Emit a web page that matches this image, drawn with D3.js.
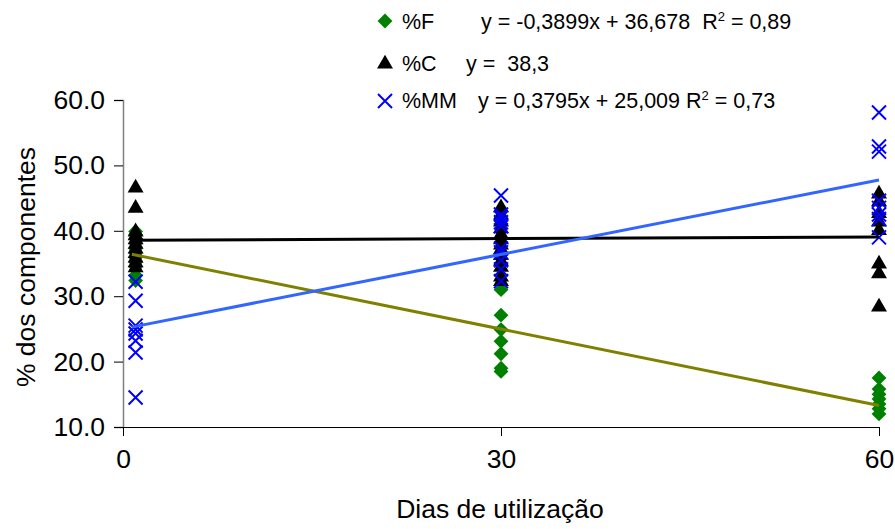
<!DOCTYPE html>
<html>
<head>
<meta charset="utf-8">
<script src="https://cdn.jsdelivr.net/npm/d3@7"></script>
<style>
  body { margin: 0; background: #fff; }
  text { font-family: "Liberation Sans", Arial, sans-serif; fill: #000; }
</style>
</head>
<body>
<div id="chart"></div>
<script>
// Data =====================================================
var days = [1, 30, 60];
var xTicks = [0, 30, 60];
var yTicks = [10, 20, 30, 40, 50, 60];

var fValues = [
  [39.9, 39.4, 38.8, 38.1, 37.3, 36.6, 35.9, 35.2, 34.5, 33.2, 32.4],
  [31.0, 27.1, 24.9, 23.1, 21.2, 19.0, 18.5],
  [17.5, 15.8, 15.0, 14.3, 13.5, 12.8, 12.0]
];
var cValues = [
  [46.7, 43.6, 40.0, 39.4, 38.8, 38.1, 37.4, 36.7, 36.0, 35.3, 34.5],
  [43.7, 42.6, 41.5, 40.5, 39.6, 38.8, 38.0, 37.3, 36.4, 35.5, 34.6, 33.1, 32.4],
  [45.8, 44.6, 42.8, 41.5, 40.2, 35.1, 33.6, 28.5]
];
var mmValues = [
  [32.2, 29.3, 25.5, 24.9, 24.3, 23.2, 21.4, 14.5],
  [45.4, 42.5, 42.0, 41.3, 40.7, 37.3, 36.7, 35.5, 34.1, 32.3],
  [58.1, 52.9, 52.1, 44.6, 43.5, 42.5, 41.8, 39.0]
];

// trend lines: F, C, MM
var trendSlopes = [-0.3899, 0.0085, 0.3795];
var trendIntercepts = [36.678, 38.55, 25.009];
var trendColors = ["#808000", "#000000", "#3366ff"];
// ===========================================================

var w = 895, h = 529;
var svg = d3.select("#chart").append("svg")
  .attr("width", w).attr("height", h);

var x = d3.scaleLinear().domain([0, 60]).range([123, 879]);
var y = d3.scaleLinear().domain([10, 60]).range([427, 100]);

// Axes ======================================================
var yAxis = svg.append("g")
  .attr("transform", "translate(" + x(0) + ",0)")
  .call(d3.axisLeft(y).tickValues(yTicks).tickFormat(d3.format(".1f")).tickSize(9).tickPadding(9));
yAxis.select(".domain").attr("stroke", "#808080").attr("stroke-width", 1.5);
yAxis.selectAll(".tick line").attr("stroke", "#000");
yAxis.selectAll("text").style("font-size", "26.5px").attr("fill", "#000");

var xAxis = svg.append("g")
  .attr("transform", "translate(0," + y(10) + ")")
  .call(d3.axisBottom(x).tickValues(xTicks).tickSize(9).tickPadding(13));
xAxis.select(".domain").attr("stroke", "#000");
xAxis.selectAll("text").style("font-size", "26.5px").attr("fill", "#000");

svg.append("text")
  .attr("x", 500).attr("y", 518)
  .attr("text-anchor", "middle")
  .style("font-size", "26.5px")
  .text("Dias de utilização");

svg.append("text")
  .attr("transform", "translate(35,267) rotate(-90)")
  .attr("text-anchor", "middle")
  .style("font-size", "26.5px")
  .text("% dos componentes");
// ===========================================================

// Markers ===================================================
function flatten(vals) {
  var out = [];
  vals.forEach(function(list, i) {
    list.forEach(function(v) { out.push({day: days[i], v: v}); });
  });
  return out;
}

var diamond = d3.symbol().type(d3.symbolDiamond2).size(140);
var triangle = d3.symbol().type(d3.symbolTriangle).size(110);

svg.append("g").selectAll("path")
  .data(flatten(fValues)).enter().append("path")
  .attr("d", diamond)
  .attr("transform", function(d) { return "translate(" + x(d.day) + "," + y(d.v) + ")"; })
  .attr("fill", "#008000");

svg.append("g").selectAll("path")
  .data(flatten(cValues)).enter().append("path")
  .attr("d", triangle)
  .attr("transform", function(d) { return "translate(" + x(d.day) + "," + (y(d.v) + 1) + ")"; })
  .attr("fill", "#000");

function cross(g, cx, cy) {
  var s = 7;
  g.append("path")
    .attr("d", "M" + (cx - s) + "," + (cy - s) + "L" + (cx + s) + "," + (cy + s) +
               "M" + (cx - s) + "," + (cy + s) + "L" + (cx + s) + "," + (cy - s))
    .attr("stroke", "#0000ff").attr("stroke-width", 2).attr("fill", "none");
}
var mmG = svg.append("g");
flatten(mmValues).forEach(function(d) { cross(mmG, x(d.day), y(d.v)); });
// ===========================================================

// Trend lines ===============================================
var line = d3.line().x(function(d) { return x(d[0]); }).y(function(d) { return y(d[1]); });
trendSlopes.forEach(function(m, i) {
  var b = trendIntercepts[i];
  svg.append("path")
    .attr("d", line([[0.7, b + m * 0.7], [60, b + m * 60]]))
    .attr("stroke", trendColors[i]).attr("stroke-width", 3).attr("fill", "none");
});
// ===========================================================

// Legend ====================================================
var lg = svg.append("g").style("font-size", "21.5px");
lg.append("path").attr("d", diamond).attr("transform", "translate(385,21)").attr("fill", "#008000");
lg.append("path").attr("d", triangle).attr("transform", "translate(385,64)").attr("fill", "#000");
cross(lg, 385, 101);

lg.append("text").attr("x", 402).attr("y", 29).text("%F");
lg.append("text").attr("x", 402).attr("y", 71).text("%C");
lg.append("text").attr("x", 402).attr("y", 108).text("%MM");

var t1 = lg.append("text").attr("x", 481).attr("y", 29).attr("xml:space", "preserve");
t1.append("tspan").text("y = -0,3899x + 36,678  R");
t1.append("tspan").attr("dy", -8).style("font-size", "13px").text("2");
t1.append("tspan").attr("dy", 8).text(" = 0,89");

lg.append("text").attr("x", 466).attr("y", 71).attr("xml:space", "preserve").text("y =  38,3");

var t3 = lg.append("text").attr("x", 478).attr("y", 108).attr("xml:space", "preserve");
t3.append("tspan").text("y = 0,3795x + 25,009 R");
t3.append("tspan").attr("dy", -8).style("font-size", "13px").text("2");
t3.append("tspan").attr("dy", 8).text(" = 0,73");
// ===========================================================
</script>
</body>
</html>
